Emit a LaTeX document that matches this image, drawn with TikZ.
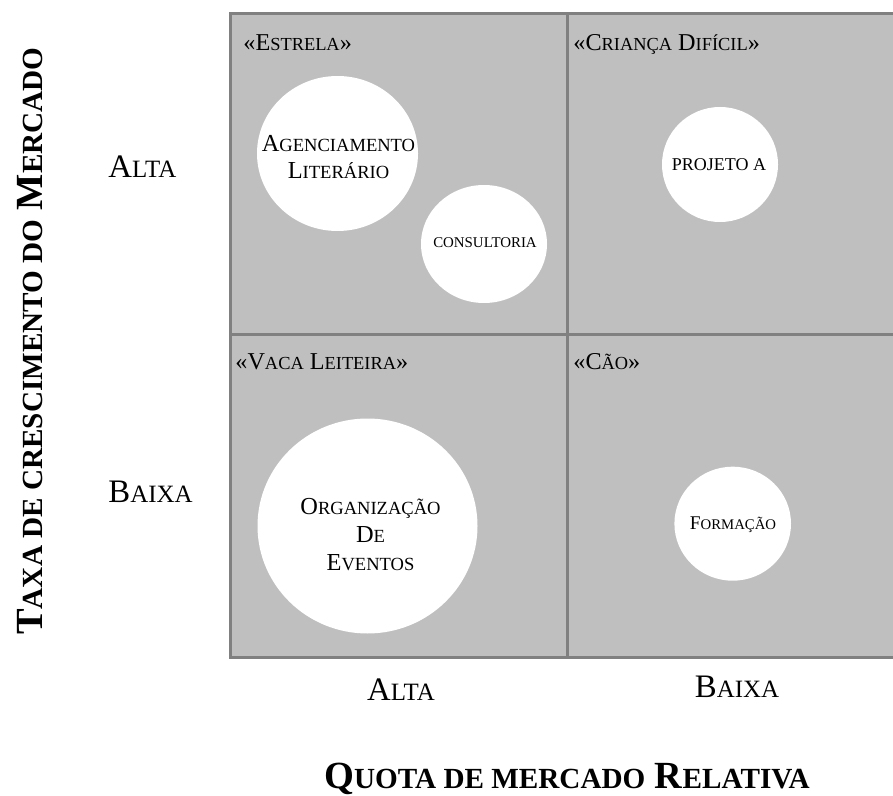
\documentclass[tikz,border=0pt]{standalone}
\usepackage{fontspec}
\setmainfont{Liberation Serif}
\usepackage{tikz}
\usetikzlibrary{positioning,shapes.geometric}
\newcommand{\smc}[1]{\scalebox{0.76}{#1}}

\begin{document}
\begin{tikzpicture}[
    x=0.5pt, y=-0.5pt,
    cell/.style={draw=black!50, fill=black!25, line width=1.5pt},
    produto/.style={ellipse, fill=white, inner sep=0pt},
    rotulo/.style={inner sep=0pt, align=center},
    quad/.style={anchor=base west, inner sep=0pt, font=\fontsize{12.1}{15}\selectfont},
    nivel/.style={inner sep=0pt, font=\fontsize{16.4}{19}\selectfont},
    eixo/.style={inner sep=0pt, font=\fontsize{19.2}{22}\selectfont\bfseries},
]
    \useasboundingbox (0,0) rectangle (893,796);
    \clip (0,0) rectangle (893,796);

    % Matriz
    \draw[cell] (230,14) rectangle (567,335);
    \draw[cell] (567,14) rectangle (905,335);
    \draw[cell] (230,335) rectangle (567,657);
    \draw[cell] (567,335) rectangle (905,657);

    % Quadrantes
    \node[quad] (estrela) at (243,51) {«E\smc{STRELA}»};
    \node[quad] (crianca) at (573,51) {«C\smc{RIANÇA} D\smc{IFÍCIL}»};
    \node[quad] (vaca) at (235,370) {«V\smc{ACA} L\smc{EITEIRA}»};
    \node[quad] (cao) at (573,370) {«C\smc{ÃO}»};

    % Produtos
    \node[produto, minimum width=80.5pt, minimum height=77.5pt] (agenc) at (337.5,153.5) {};
    \node[produto, minimum width=63pt, minimum height=59pt] (consult) at (484,244) {};
    \node[produto, minimum width=58pt, minimum height=57.5pt] (projeto) at (720,164.5) {};
    \node[produto, minimum width=110pt, minimum height=107.5pt] (eventos) at (367.5,526) {};
    \node[produto, minimum width=58.3pt, minimum height=57pt] (formacao) at (732.7,523.7) {};

    \node[rotulo, font=\fontsize{12.2}{13.5}\selectfont] (agencTxt) at (338.5,157)
        {A\smc{GENCIAMENTO}\\L\smc{ITERÁRIO}};
    \node[rotulo, font=\fontsize{7.45}{8}\selectfont] (consultTxt) at (485,243) {CONSULTORIA};
    \node[rotulo, font=\fontsize{9}{11}\selectfont] (projetoTxt) at (719,165) {PROJETO A};
    \node[rotulo, font=\fontsize{12.2}{14}\selectfont] (eventosTxt) at (370.5,535)
        {O\smc{RGANIZAÇÃO}\\D\smc{E}\\E\smc{VENTOS}};
    \node[rotulo, font=\fontsize{9.7}{11}\selectfont] (formacaoTxt) at (733,525) {F\smc{ORMAÇÃO}};

    % Eixo vertical
    \node[nivel, anchor=base west] (altaY) at (108,178) {A\smc{LTA}};
    \node[nivel, anchor=base west] (baixaY) at (108,502) {B\smc{AIXA}};
    \node[eixo, rotate=90, anchor=base] (taxa) at (42,341)
        {T\smc{AXA DE CRESCIMENTO DO} M\smc{ERCADO}};

    % Eixo horizontal
    \node[nivel, anchor=base] (altaX) at (401,700) {A\smc{LTA}};
    \node[nivel, anchor=base] (baixaX) at (737,697) {B\smc{AIXA}};
    \node[eixo, anchor=base] (quota) at (567,788)
        {Q\smc{UOTA DE MERCADO} R\smc{ELATIVA}};

\end{tikzpicture}
\end{document}
